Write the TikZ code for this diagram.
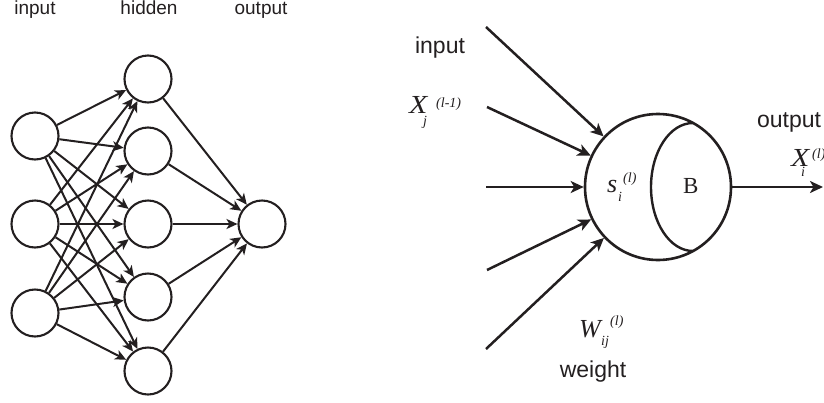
\documentclass[tikz,border=0pt]{standalone}
\usepackage{graphicx}
\usepackage{fontspec}
\setmainfont{Liberation Sans}
\newfontfamily\tms{Liberation Serif}
\usetikzlibrary{arrows.meta}
\definecolor{ink}{HTML}{231F20}
% base, sub, sub dx, sub dy, sup, sup dx, sup dy  (offsets from base's left/baseline)
\newcommand\symlbl[7]{{\tms\itshape
  \rlap{\fontsize{26}{26}\selectfont #1}%
  \rlap{\kern#3\raisebox{-#4}{\fontsize{14}{14}\selectfont #2}}%
  \kern#6\raisebox{#7}{\fontsize{14}{14}\selectfont #5}}}
\newcommand\wideX{\scalebox{1.15}[1]{X}}
\begin{document}
\begin{tikzpicture}[x=1pt,y=-1pt,
  every node/.style={text=ink},
  neuron/.style={circle,draw=ink,line width=2.1pt,minimum size=47pt,inner sep=0pt},
  conn/.style={draw=ink,line width=2pt,-{Stealth[length=11pt,width=10pt,inset=3pt]}},
  bigconn/.style={draw=ink,line width=2.5pt,-{Stealth[length=13pt,width=12pt,inset=3.5pt]}},
  lab/.style={font=\fontsize{19}{21}\selectfont, anchor=base, inner sep=0pt},
  rlab/.style={font=\fontsize{23}{26}\selectfont, anchor=base, inner sep=0pt},
  mlab/.style={anchor=base west, inner sep=0pt},
]
\useasboundingbox (0,0) rectangle (824,402);
% ---- left network ----
\node[lab] (tin) at (35,14) {input};
\node[lab] (thid) at (149,14) {hidden};
\node[lab] (tout) at (261,14) {output};
\node[neuron] (i1) at (35,136) {};
\node[neuron] (i2) at (35,224) {};
\node[neuron] (i3) at (35,313) {};
\node[neuron] (h1) at (148,79) {};
\node[neuron] (h2) at (148,151) {};
\node[neuron] (h3) at (148,224) {};
\node[neuron] (h4) at (148,297) {};
\node[neuron] (h5) at (148,371) {};
\node[neuron] (o) at (262,224) {};
\foreach \a in {i1,i2,i3}{
  \foreach \b in {h1,h2,h3,h4,h5}{
    \draw[conn] (\a) -- (\b);
  }
}
\foreach \b in {h1,h2,h3,h4,h5}{
  \draw[conn] (\b) -- (o);
}
% ---- right neuron ----
\node[circle,draw=ink,line width=2.6pt,minimum size=146pt,inner sep=0pt] (N) at (658,187) {};
\draw[draw=ink,line width=2.4pt] (693,123) arc[start angle=270,end angle=90,x radius=42,y radius=64];
\coordinate (a1) at (486,27);
\coordinate (a2) at (487,107);
\coordinate (a3) at (486,187);
\coordinate (a4) at (487,270);
\coordinate (a5) at (486,349);
\coordinate (out) at (823,187);
\foreach \a in {a1,a2,a3,a4,a5}{
  \draw[bigconn] (\a) -- (N);
}
\draw[bigconn] (N.east) -- (out);
\node[rlab] (rin) at (440,53) {input};
\node[rlab] (rout) at (789,127) {output};
\node[rlab] (rw) at (593,377) {weight};
\node[mlab] (xj) at (409,113) {\symlbl{\wideX}{j}{14pt}{12pt}{(l-1)}{27pt}{5.5pt}};
\node[mlab] (xi) at (791,166) {\symlbl{\wideX}{i}{10pt}{10pt}{(l)}{21pt}{7.5pt}};
\node[mlab] (si) at (607,192) {\symlbl{s}{i}{11pt}{9pt}{(l)}{16pt}{9.5pt}};
\node[mlab,font=\fontsize{23}{26}\selectfont\tms] (B) at (683,193) {B};
\node[mlab] (wij) at (579,337) {\symlbl{W}{ij}{22pt}{8pt}{(l)}{31pt}{11.5pt}};
\end{tikzpicture}
\end{document}
